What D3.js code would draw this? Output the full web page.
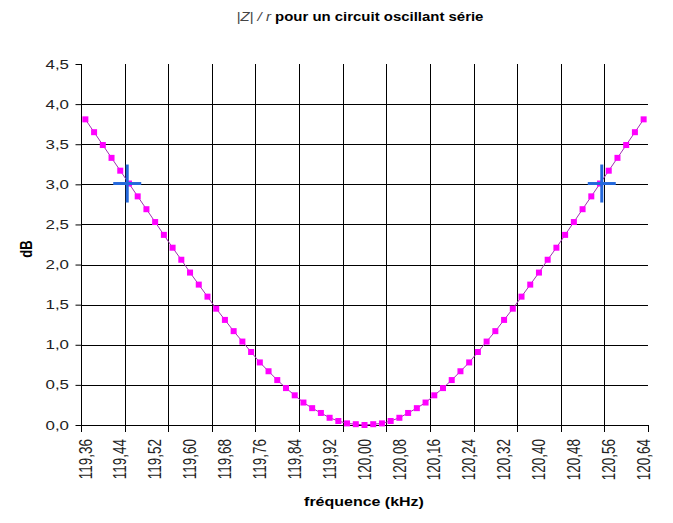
<!DOCTYPE html>
<html><head><meta charset="utf-8">
<script src="https://cdn.jsdelivr.net/npm/d3@7"></script>
<style>body{margin:0;background:#fff}svg{display:block;font-family:"Liberation Sans",Arial,sans-serif}</style>
</head><body>
<script>
const frequencies = [119.36,119.38,119.40,119.42,119.44,119.46,119.48,119.50,119.52,119.54,119.56,119.58,119.60,119.62,119.64,119.66,119.68,119.70,119.72,119.74,119.76,119.78,119.80,119.82,119.84,119.86,119.88,119.90,119.92,119.94,119.96,119.98,120.00,120.02,120.04,120.06,120.08,120.10,120.12,120.14,120.16,120.18,120.20,120.22,120.24,120.26,120.28,120.30,120.32,120.34,120.36,120.38,120.40,120.42,120.44,120.46,120.48,120.50,120.52,120.54,120.56,120.58,120.60,120.62,120.64];
const dbValues = [3.81,3.65,3.49,3.33,3.17,3.01,2.85,2.69,2.53,2.37,2.21,2.06,1.90,1.75,1.60,1.45,1.31,1.17,1.04,0.91,0.78,0.67,0.56,0.46,0.37,0.28,0.21,0.15,0.09,0.05,0.02,0.01,0.00,0.01,0.02,0.05,0.09,0.15,0.21,0.28,0.37,0.46,0.56,0.67,0.78,0.91,1.04,1.17,1.31,1.45,1.60,1.75,1.90,2.06,2.21,2.37,2.53,2.69,2.85,3.01,3.17,3.33,3.49,3.65,3.81];
const crossFreq = [119.456, 120.544];
const crossDb = [3.01, 3.01];
const xLabelValues = [119.36,119.44,119.52,119.60,119.68,119.76,119.84,119.92,120.00,120.08,120.16,120.24,120.32,120.40,120.48,120.56,120.64];
const xTickValues = [119.35,119.45,119.55,119.65,119.75,119.85,119.95,120.05,120.15,120.25,120.35,120.45,120.55,120.65];
const yTickValues = [0,0.5,1,1.5,2,2.5,3,3.5,4,4.5];

const W = 673, H = 523;
const L = 81, R = 648, T = 64, B = 425;
const SX = 1.3; // horizontal glyph stretch seen in the reference
const svg = d3.select("body").append("svg").attr("width", W).attr("height", H);
const x = d3.scaleLinear().domain([119.35, 120.65]).range([L, R]);
const y = d3.scaleLinear().domain([0, 4.5]).range([B, T]);
const fmt = v => d3.format(".2f")(v).replace(".", ",");
const fmtY = v => d3.format(".1f")(v).replace(".", ",");

// gridlines
const g = svg.append("g").attr("stroke", "#000").attr("stroke-width", 1).attr("shape-rendering", "crispEdges");
g.selectAll("line.h").data(yTickValues.filter(v => v > 0 && v < 4.5)).join("line")
  .attr("x1", L).attr("x2", R).attr("y1", d => Math.round(y(d)) + 0.5).attr("y2", d => Math.round(y(d)) + 0.5);
g.selectAll("line.v").data(xTickValues.slice(1, -1)).join("line")
  .attr("y1", T).attr("y2", B).attr("x1", d => Math.round(x(d)) + 0.5).attr("x2", d => Math.round(x(d)) + 0.5);

// y axis (D3 axis for line + ticks, labels drawn stretched)
const yAxis = svg.append("g").attr("transform", `translate(${L + 0.5},0)`)
  .call(d3.axisLeft(y).tickValues(yTickValues).tickFormat("").tickSize(6).tickSizeOuter(0));
yAxis.select(".domain").attr("stroke", "#000").attr("d", `M0,${T}V${B + 0.5}`);
yAxis.selectAll(".tick line").attr("stroke", "#000");
svg.append("g").selectAll("text").data(yTickValues).join("text")
  .attr("transform", d => `translate(69,${y(d)}) scale(${SX},1)`)
  .attr("text-anchor", "end").attr("dy", "0.35em")
  .attr("font-size", 13).attr("fill", "#222").text(fmtY);

// x axis line + ticks
const xa = svg.append("g").attr("shape-rendering", "crispEdges");
xa.append("line").attr("x1", L).attr("x2", R + 1).attr("y1", B + 0.5).attr("y2", B + 0.5).attr("stroke", "#000");
xa.selectAll("line.t").data(xTickValues).join("line")
  .attr("x1", d => Math.round(x(d)) + 0.5).attr("x2", d => Math.round(x(d)) + 0.5)
  .attr("y1", B).attr("y2", B + 7).attr("stroke", "#000");
svg.append("g").selectAll("text").data(xLabelValues).join("text")
  .attr("transform", d => `translate(${x(d)},${B + 14}) scale(${SX},1) rotate(-90)`)
  .attr("text-anchor", "end").attr("dy", "0.35em")
  .attr("font-size", 13.5).attr("fill", "#222").text(fmt);

// line + markers
const line = d3.line().x((d, i) => x(frequencies[i])).y(d => y(d));
svg.append("path").datum(dbValues).attr("d", line).attr("fill", "none").attr("stroke", "#a030b0").attr("stroke-width", 1);
svg.append("g").selectAll("rect").data(dbValues).join("rect")
  .attr("x", (d, i) => x(frequencies[i]) - 3).attr("y", d => y(d) - 3)
  .attr("width", 6).attr("height", 6).attr("fill", "#ff00ff");

// crosses
const cg = svg.append("g").attr("stroke", "#2468dc").attr("stroke-width", 3);
crossFreq.forEach((f, i) => {
  const cx = x(f), cy = y(crossDb[i]);
  cg.append("line").attr("x1", cx - 14).attr("x2", cx + 14).attr("y1", cy).attr("y2", cy);
  cg.append("line").attr("x1", cx).attr("x2", cx).attr("y1", cy - 19).attr("y2", cy + 19);
});

// titles
const title = svg.append("text").attr("transform", "translate(360,21) scale(1.15,1)").attr("text-anchor", "middle").attr("font-size", 13);
title.append("tspan").attr("font-style", "italic").attr("fill", "#444").text("|Z| / r");
title.append("tspan").attr("font-weight", "bold").attr("fill", "#000").text(" pour un circuit oscillant série");
svg.append("text").attr("transform", "translate(364,506) scale(1.23,1)").attr("text-anchor", "middle").attr("font-size", 13).attr("font-weight", "bold").text("fréquence (kHz)");
svg.append("text").attr("transform", `translate(32,249) scale(${SX},1) rotate(-90)`).attr("text-anchor", "middle").attr("font-size", 13).attr("font-weight", "bold").text("dB");
</script>
</body></html>
